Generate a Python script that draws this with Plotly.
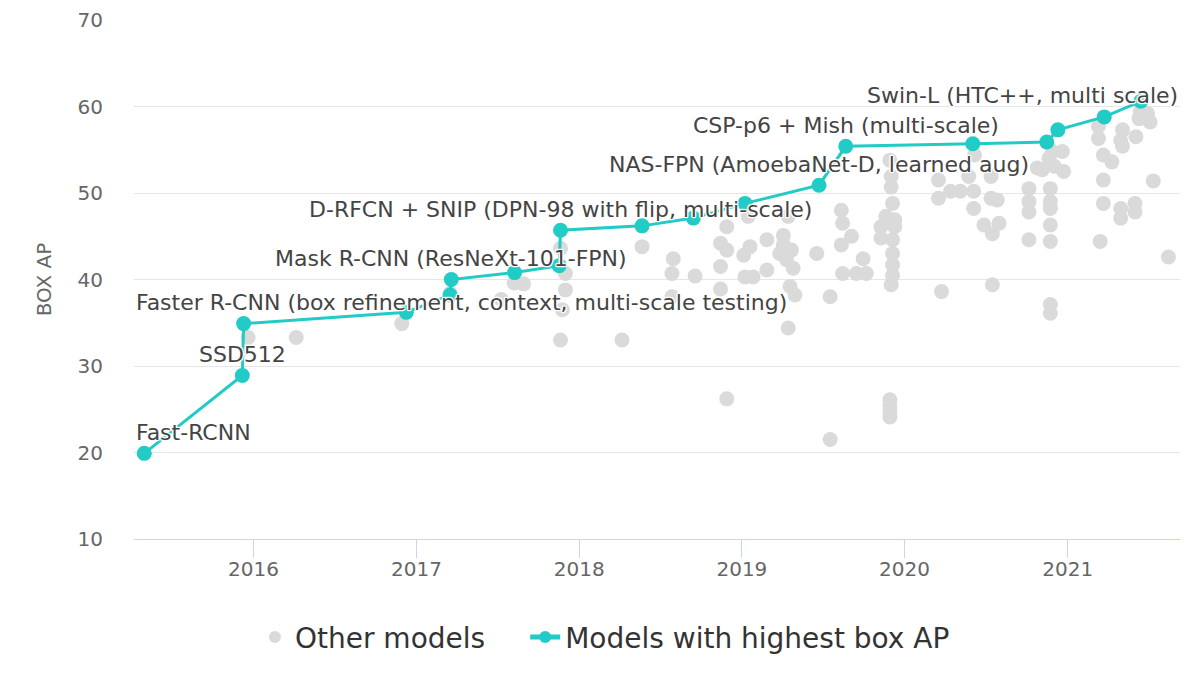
import plotly.graph_objects as go

# ---------------- data ----------------
best_dates = ['2015-05-01', '2015-12-07', '2015-12-10', '2016-12-09', '2017-03-17', '2017-03-20',
              '2017-08-09', '2017-11-17', '2017-11-20', '2018-05-22', '2018-09-14', '2019-01-08',
              '2019-06-23', '2019-08-22', '2020-06-02', '2020-11-15', '2020-12-10', '2021-03-24',
              '2021-06-14']
best_ap = [19.9, 28.9, 34.9, 36.2, 38.2, 40.0, 40.8, 41.6, 45.7, 46.2, 47.1, 48.8,
           50.9, 55.4, 55.7, 55.9, 57.3, 58.8, 60.6]
best_labels = ['Fast-RCNN', 'SSD512', 'Faster R-CNN (box refinement, context, multi-scale testing)',
               '', '', 'Mask R-CNN (ResNeXt-101-FPN)', '', '',
               'D-RFCN + SNIP (DPN-98 with flip, multi-scale)', '', '', '',
               'NAS-FPN (AmoebaNet-D, learned aug)', 'CSP-p6 + Mish (multi-scale)', '', '', '', '',
               'Swin-L (HTC++, multi scale)']

other_dates = [
    '2015-12-20', '2016-04-06', '2016-11-29',
    '2017-03-18', '2017-07-10', '2017-08-08', '2017-08-29',
    '2017-11-20', '2017-12-01', '2017-12-01', '2017-11-24', '2017-11-20',
    '2018-04-07', '2018-05-22', '2018-07-31', '2018-07-28', '2018-07-28', '2018-09-18',
    '2018-11-28', '2018-11-14', '2018-11-28', '2018-11-14', '2018-11-14', '2018-11-28',
    '2019-01-15', '2019-01-19', '2019-01-05', '2019-01-08', '2019-01-26',
    '2019-02-26', '2019-02-26',
    '2019-04-04', '2019-04-15', '2019-03-27', '2019-04-22', '2019-04-11', '2019-04-04',
    '2019-04-26', '2019-04-19', '2019-04-30', '2019-04-15',
    '2019-06-18', '2019-07-18', '2019-07-18',
    '2019-08-12', '2019-08-15', '2019-08-12', '2019-09-04', '2019-08-15', '2019-09-15',
    '2019-09-30', '2019-10-07',
    '2019-11-29', '2019-12-02', '2019-12-02', '2019-12-05', '2019-11-20', '2019-12-10',
    '2019-11-09', '2019-12-10', '2019-11-09', '2019-12-05', '2019-12-05', '2019-12-05',
    '2019-12-05', '2019-12-02', '2019-11-29', '2019-11-29', '2019-11-29', '2019-11-29',
    '2020-03-17', '2020-03-17', '2020-04-13', '2020-05-05', '2020-06-04', '2020-05-24',
    '2020-06-06', '2020-06-04', '2020-03-24', '2020-07-13', '2020-07-27', '2020-06-27',
    '2020-07-16', '2020-07-31', '2020-07-16', '2020-07-13',
    '2020-10-06', '2020-10-06', '2020-10-06', '2020-10-06', '2020-10-25', '2020-11-05',
    '2020-11-20', '2020-11-28', '2020-12-20', '2020-12-02', '2020-12-23', '2020-11-23',
    '2020-11-23', '2020-11-23', '2020-11-23', '2020-11-23', '2020-11-23', '2020-11-23',
    '2021-03-11', '2021-03-11', '2021-03-22', '2021-04-10', '2021-03-22', '2021-03-22',
    '2021-03-15', '2021-05-04', '2021-04-30', '2021-05-04', '2021-06-03', '2021-06-10',
    '2021-06-29', '2021-07-05', '2021-06-13', '2021-04-30', '2021-04-30', '2021-06-01',
    '2021-06-01', '2021-07-12', '2021-08-15']
other_ap = [
    33.3, 33.3, 34.9,
    38.4, 37.7, 39.6, 39.5,
    43.6, 40.7, 38.8, 36.5, 33.0,
    33.0, 43.8, 42.4, 40.7, 38.0, 40.4,
    46.1, 44.2, 43.4, 41.5, 38.9, 26.2,
    47.3, 43.8, 42.8, 40.3, 40.3,
    44.6, 41.1,
    45.1, 47.3, 43.0, 43.4, 42.3, 44.0,
    41.3, 39.2, 38.2, 34.4,
    43.0, 38.0, 21.5,
    48.0, 46.5, 44.0, 45.0, 40.7, 40.7,
    42.4, 40.7,
    53.8, 51.9, 50.7, 48.8, 47.3, 46.9,
    46.1, 46.1, 44.8, 44.6, 43.0, 41.7,
    40.5, 39.4, 26.1, 25.3, 24.6, 24.1,
    51.5, 49.4, 50.2, 50.2, 50.2, 51.9,
    54.4, 48.2, 38.6, 49.4, 49.2, 46.3,
    45.3, 46.5, 39.4, 51.9,
    50.5, 49.0, 47.8, 44.6, 52.9, 52.7,
    54.0, 54.8, 54.8, 53.1, 52.5, 50.5,
    49.0, 48.2, 46.3, 44.4, 37.1, 36.1,
    57.7, 56.3, 54.4, 53.6, 51.5, 48.8,
    44.4, 57.3, 56.1, 55.4, 56.5, 58.6,
    59.2, 58.2, 59.4, 48.2, 47.1, 48.8,
    47.8, 51.4, 42.6]

y_ticks = [10, 20, 30, 40, 50, 60, 70]

# ---------------- style ----------------
FONT = "DejaVu Sans"
TEAL = "#22cbc5"
GRAY = "#dadada"
x_range = ['2015-04-08', '2021-09-10']
label_anchor = {'Fast-RCNN': 'left',
                'Faster R-CNN (box refinement, context, multi-scale testing)': 'left',
                'Swin-L (HTC++, multi scale)': 'right'}
label_yshift = {'Swin-L (HTC++, multi scale)': 6}
halo = ("white 1px 0px 1px, white -1px 0px 1px, white 0px 1px 1px, white 0px -1px 1px, "
        "white 1px 1px 1px, white -1px -1px 1px, white 1px -1px 1px, white -1px 1px 1px")

fig = go.Figure()
fig.add_trace(go.Scatter(
    x=other_dates, y=other_ap, mode='markers', name='Other models', legend='legend',
    marker=dict(size=15, color=GRAY, line=dict(width=0)),
))
fig.add_trace(go.Scatter(
    x=best_dates, y=best_ap, mode='lines+markers', name='Models with highest box AP',
    legend='legend2',
    line=dict(color=TEAL, width=3),
    marker=dict(size=15, color=TEAL, line=dict(width=0)),
))

annotations = []
for d, v, lab in zip(best_dates, best_ap, best_labels):
    if not lab:
        continue
    anchor = label_anchor.get(lab, 'center')
    xpos = d
    if anchor == 'left':
        xpos = x_range[0]
    elif anchor == 'right':
        xpos = x_range[1]
    annotations.append(dict(
        x=xpos, y=v, xref='x', yref='y', text=lab, showarrow=False,
        xanchor=anchor, yanchor='middle', yshift=label_yshift.get(lab, 21),
        font=dict(family=FONT, size=22, color='#444444', shadow=halo),
    ))

legend_common = dict(orientation='h', xref='container', yref='container',
                     xanchor='left', y=0.101, yanchor='middle',
                     font=dict(family=FONT, size=28, color='#333333'),
                     itemsizing='constant', bgcolor='rgba(0,0,0,0)')

fig.update_layout(
    width=1200, height=700,
    margin=dict(l=126, r=28, t=12, b=169),
    paper_bgcolor='white', plot_bgcolor='white',
    font=dict(family=FONT, color='#666666'),
    annotations=annotations,
    showlegend=True,
    legend=dict(legend_common, x=0.2058),
    legend2=dict(legend_common, x=0.431),
    xaxis=dict(type='date', range=x_range, tick0='2016-01-01', dtick='M12',
               tickformat='%Y', ticks='outside', ticklen=18, tickcolor='#ccd6eb',
               ticklabelstandoff=-6,
               showline=True, linecolor='#ccd6eb', linewidth=1, showgrid=False,
               zeroline=False, automargin=False,
               tickfont=dict(family=FONT, size=20, color='#666666')),
    yaxis=dict(range=[10, 70], tickvals=y_ticks, showgrid=True, gridcolor='#e6e6e6',
               gridwidth=1, zeroline=False, showline=False, ticklabelstandoff=30,
               automargin=False,
               tickfont=dict(family=FONT, size=20, color='#666666'),
               title=dict(text='BOX AP', font=dict(family=FONT, size=20, color='#666666'),
                          standoff=20)),
)

fig.write_html("out.html")
